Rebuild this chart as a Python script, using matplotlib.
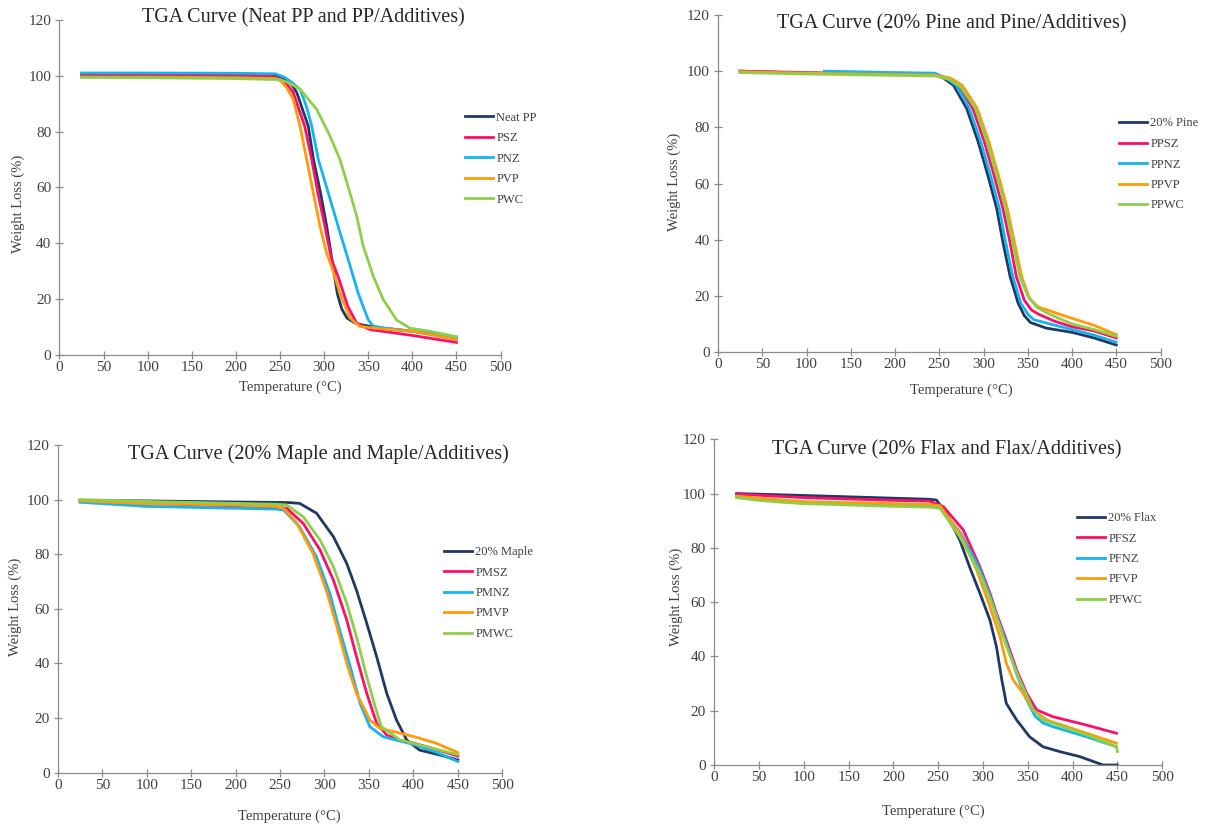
import matplotlib
matplotlib.use("Agg")
import matplotlib.pyplot as plt

plt.rcParams['font.family'] = ['Liberation Serif', 'DejaVu Serif']

# Excel style colours
NAVY = '#1F3864'
PINK = '#FF0D6A'
CYAN = '#14B4F0'
ORANGE = '#FF9A0A'
GREEN = '#8FCF48'
AXCOL = '#8C8C8C'
TXTCOL = '#404040'

# ---------- Neat PP and PP/Additives ----------
pp_labels = ['Neat PP', 'PSZ', 'PNZ', 'PVP', 'PWC']
neat_pp_t = [25, 100, 200, 240, 250, 261, 269, 282, 288, 296, 303, 309, 315, 320, 326, 335, 341, 360, 400, 450]
neat_pp_w = [100.7, 100.7, 100.6, 100.4, 99.5, 98, 94, 82, 70, 58, 46, 34, 22, 16.5, 13.2, 11.5, 10.9, 9.8, 8.5, 6]
psz_t = [25, 100, 200, 240, 250, 258, 265, 278, 286, 293, 301, 308.6, 316, 327, 337, 352, 400, 450]
psz_w = [100.2, 100.2, 100, 99.8, 99, 97, 94, 82, 70, 58, 46, 34, 28, 17.3, 11.4, 9.1, 7, 4.5]
pnz_t = [25, 100, 200, 245, 255, 264, 273, 280, 286, 293.5, 304.8, 316, 327.5, 338.8, 350, 356, 370, 400, 450]
pnz_w = [101, 101, 100.9, 100.7, 99.5, 97.5, 95, 89, 82, 70, 58, 46, 34, 22, 12.6, 10.3, 9.6, 8.5, 6.5]
pvp_t = [25, 100, 200, 245, 251.4, 258, 265, 272.7, 280.3, 287.8, 295.4, 302.9, 308.6, 318, 329.4, 340.7, 360, 400, 450]
pvp_w = [99.5, 99.5, 99.3, 99, 98, 95.5, 91.6, 82, 70, 58, 46, 36.4, 31.6, 22, 13.2, 10.2, 9.5, 8.5, 5.5]
pwc_t = [25, 100, 200, 250, 260, 272.7, 291.6, 306.7, 318, 329.4, 337, 344.4, 355.8, 367, 382.3, 397.4, 420, 450]
pwc_w = [99.5, 99.3, 99, 98.6, 97.5, 95.2, 88, 78.4, 70, 58, 49.7, 39, 28.2, 19.9, 12.5, 9.6, 8.5, 6.5]

# ---------- 20% Pine and Pine/Additives ----------
pine_labels = ['20% Pine', 'PPSZ', 'PPNZ', 'PPVP', 'PPWC']
pine_t = [25, 100, 200, 245, 255, 266, 281, 294, 305, 315, 322, 330, 339, 346, 353, 371, 400, 425, 450]
pine_w = [100, 99.3, 98.8, 98.8, 97.5, 95, 86.7, 74.8, 62.8, 51, 39, 27, 17.5, 13, 10.5, 8.5, 7, 5, 2.5]
ppsz_t = [25, 100, 200, 245, 260, 272, 288, 301, 312, 322, 330, 337, 346, 354, 362, 380, 400, 425, 450]
ppsz_w = [100, 99.5, 99, 98.8, 97.5, 95, 86.7, 74.8, 62.8, 51, 39, 27, 18.5, 15, 13.5, 11, 9, 7.5, 5]
ppnz_t = [120, 200, 245, 258, 269, 284, 297, 308, 318, 325, 333, 342, 350, 357, 375, 400, 425, 450]
ppnz_w = [100, 99.5, 99.3, 97.5, 95, 86.7, 74.8, 62.8, 51, 39, 27, 17.5, 13.5, 11.5, 10, 8, 6, 3.5]
ppvp_t = [25, 100, 200, 245, 263, 276, 293, 306, 317, 327, 335, 343, 352, 362, 372, 390, 400, 425, 450]
ppvp_w = [99.8, 99.3, 98.8, 98.6, 97.5, 95, 86.7, 74.8, 62.8, 51, 39, 27, 19, 16, 15, 13, 12, 9.5, 6.2]
ppwc_t = [25, 100, 200, 245, 262, 274, 291, 304, 315, 325, 333, 341, 350, 360, 368, 385, 400, 425, 450]
ppwc_w = [99.5, 99, 98.5, 98.3, 97, 94.5, 86.7, 74.8, 62.8, 51, 39, 27, 20, 16, 14.5, 12, 10, 8, 5.6]

# ---------- 20% Maple and Maple/Additives ----------
maple_labels = ['20% Maple', 'PMSZ', 'PMNZ', 'PMVP', 'PMWC']
maple_t = [25, 100, 200, 260, 272, 291, 310, 325, 336, 347.5, 358.7, 370, 381, 392.5, 407, 430, 450]
maple_w = [99.7, 99.5, 99.1, 98.9, 98.6, 95, 86.4, 76.6, 66.8, 54.7, 42.4, 29, 19.2, 11.9, 8.2, 6.4, 4.6]
pmsz_t = [25, 100, 200, 245, 257.5, 276, 295, 310, 325, 336, 347.5, 358.7, 370, 385, 400, 425, 450]
pmsz_w = [99.5, 98.5, 97.7, 97.3, 96.8, 91.3, 81.5, 70.5, 55.9, 42.4, 29, 18, 13.7, 11.8, 10.8, 8.5, 6]
pmnz_t = [25, 100, 200, 245, 254, 272, 291, 306, 317, 329, 340, 351, 366, 385, 400, 425, 450]
pmnz_w = [99, 97.5, 96.8, 96.5, 96.2, 90, 79, 65.6, 52.2, 38.8, 25.3, 16.8, 13.1, 11.5, 10.3, 7.5, 4]
pmvp_t = [25, 100, 200, 245, 254, 269, 287, 302, 314, 325, 336, 351, 362, 380, 400, 425, 450]
pmvp_w = [99.5, 98.5, 98, 97.5, 96.8, 91.3, 80.3, 66.8, 53.4, 40, 29, 19.2, 16.2, 14.8, 13.2, 10.8, 7.3]
pmwc_t = [25, 100, 200, 245, 257.5, 276, 295, 310, 325, 336, 347.5, 357, 364, 385, 420, 450]
pmwc_w = [100, 99.3, 98.6, 98.3, 98, 93.7, 85.2, 75.4, 62, 49.7, 35.1, 24.1, 16.8, 11.9, 9, 6.5]

# ---------- 20% Flax and Flax/Additives ----------
flax_labels = ['20% Flax', 'PFSZ', 'PFNZ', 'PFVP', 'PFWC']
flax_t = [25, 100, 200, 240, 248, 259, 274, 285, 296.5, 307.7, 315, 321, 326, 337.5, 352, 367, 386, 408, 434, 450]
flax_w = [100, 99.3, 98.3, 97.9, 97.6, 92.7, 82.9, 73, 63.3, 53.4, 43.6, 31.3, 22.7, 16.6, 10.4, 6.7, 4.9, 3.1, 0, 0]
pfsz_t = [25, 100, 200, 240, 255.6, 278, 296.5, 307.7, 315, 326, 337.5, 348.7, 359.8, 378, 415.6, 449]
pfsz_w = [99.8, 98.5, 97.5, 97.2, 95.2, 86.6, 73, 63.3, 55.9, 46, 35, 26.4, 20.3, 17.8, 14.7, 11.7]
pfnz_t = [25, 50, 100, 200, 245, 252, 275, 296, 308, 316, 326, 337, 348, 358, 367, 378, 415.6, 449]
pfnz_w = [99, 98, 96.5, 95.8, 95.5, 94.8, 85.5, 72.5, 62, 54, 45, 34, 24.5, 18, 15.5, 14.1, 10.4, 6.7]
pfvp_t = [25, 100, 200, 240, 252, 274, 293, 307.7, 319, 326, 333.7, 344.8, 356, 371, 415.6, 449]
pfvp_w = [99, 97, 96.3, 96, 95.5, 85.4, 71.8, 58.3, 47.3, 37.5, 31.3, 26.4, 20.3, 16.6, 11.7, 8]
pfwc_t = [25, 50, 75, 100, 200, 240, 252, 274, 296.5, 311.4, 326.3, 341, 356, 367, 415.6, 449, 450]
pfwc_w = [98.5, 97.5, 96.8, 96.3, 95.3, 95, 94.6, 84.1, 70.6, 58.3, 43.6, 31.3, 20.3, 16.6, 11.1, 6.7, 5]

colors = [NAVY, PINK, CYAN, ORANGE, GREEN]

panels = [
    dict(title='TGA Curve (Neat PP and PP/Additives)', labels=pp_labels,
         series=[(neat_pp_t, neat_pp_w), (psz_t, psz_w), (pnz_t, pnz_w), (pvp_t, pvp_w), (pwc_t, pwc_w)],
         rect=[0.0491, 0.5692, 0.3642, 0.4066], title_xy=(0.553, 1.006),
         ylab_xy=(-0.094, 0.452), xlab_xy=(0.524, -0.095), leg_px=(465, 158.7)),
    dict(title='TGA Curve (20% Pine and Pine/Additives)', labels=pine_labels,
         series=[(pine_t, pine_w), (ppsz_t, ppsz_w), (ppnz_t, ppnz_w), (ppvp_t, ppvp_w), (ppwc_t, ppwc_w)],
         rect=[0.5929, 0.5728, 0.3654, 0.409], title_xy=(0.528, 0.975),
         ylab_xy=(-0.098, 0.505), xlab_xy=(0.549, -0.113), leg_px=(1119, 164.5)),
    dict(title='TGA Curve (20% Maple and Maple/Additives)', labels=maple_labels,
         series=[(maple_t, maple_w), (pmsz_t, pmsz_w), (pmnz_t, pmnz_w), (pmvp_t, pmvp_w), (pmwc_t, pmwc_w)],
         rect=[0.0477, 0.0625, 0.3671, 0.3975], title_xy=(0.586, 0.972),
         ylab_xy=(-0.096, 0.506), xlab_xy=(0.521, -0.135), leg_px=(444, 593)),
    dict(title='TGA Curve (20% Flax and Flax/Additives)', labels=flax_labels,
         series=[(flax_t, flax_w), (pfsz_t, pfsz_w), (pfnz_t, pfnz_w), (pfvp_t, pfvp_w), (pfwc_t, pfwc_w)],
         rect=[0.5898, 0.0716, 0.3699, 0.3953], title_xy=(0.52, 0.969),
         ylab_xy=(-0.085, 0.517), xlab_xy=(0.489, -0.143), leg_px=(1077, 559)),
]

W, H = 1211, 824
fig = plt.figure(figsize=(W / 100, H / 100), dpi=100)

for p in panels:
    ax = fig.add_axes(p['rect'])
    for (t, w), lab, c in zip(p['series'], p['labels'], colors):
        ax.plot(t, w, color=c, lw=2.0, label=lab)
    ax.set_xlim(0, 500)
    ax.set_ylim(0, 120)
    ax.set_xticks(range(0, 501, 50))
    ax.set_yticks(range(0, 121, 20))
    for s in ['top', 'right']:
        ax.spines[s].set_visible(False)
    for s in ['left', 'bottom']:
        ax.spines[s].set_color(AXCOL)
        ax.spines[s].set_linewidth(0.9)
    ax.tick_params(direction='inout', length=6.3, width=0.9, color=AXCOL,
                   labelsize=11, labelcolor=TXTCOL)
    ax.tick_params(axis='y', pad=2.8)
    ax.tick_params(axis='x', pad=1.5)

    ylab = ax.set_ylabel('Weight Loss (%)', fontsize=10.5, color=TXTCOL)
    ylab.set_verticalalignment('center')
    ax.yaxis.set_label_coords(*p['ylab_xy'])
    xlab = ax.set_xlabel('Temperature (°C)', fontsize=10.5, color=TXTCOL)
    xlab.set_verticalalignment('center')
    ax.xaxis.set_label_coords(*p['xlab_xy'])

    ax.text(p['title_xy'][0], p['title_xy'][1], p['title'], transform=ax.transAxes,
            ha='center', va='center', fontsize=14.5, color='#262626')

    lx, ly = p['leg_px']
    ax.legend(loc='center left', bbox_to_anchor=(lx / W, 1 - ly / H),
              bbox_transform=fig.transFigure, frameon=False, fontsize=9,
              handlelength=2.2, handletextpad=0.3, borderpad=0,
              borderaxespad=0, labelspacing=0.68, labelcolor=TXTCOL)

fig.savefig('out.png', dpi=100)
